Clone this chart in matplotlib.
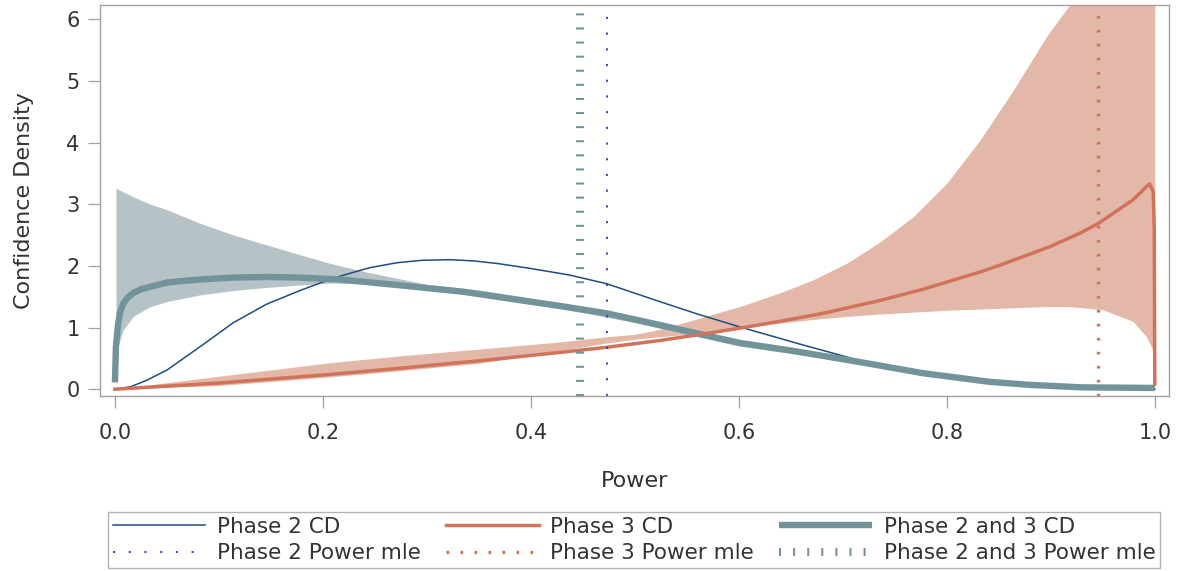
import matplotlib
matplotlib.use("Agg")
import matplotlib.pyplot as plt

plt.rcParams['font.family'] = ['DejaVu Sans']

# Phase 2 confidence density (thin blue)
p2_x = [0, 0.015, 0.03, 0.05, 0.082, 0.114, 0.146, 0.178, 0.2035, 0.22, 0.245, 0.271, 0.295,
        0.322, 0.345, 0.367, 0.399, 0.4375, 0.473, 0.524, 0.56, 0.601, 0.659, 0.713, 0.777,
        0.841, 0.9, 0.95, 1.0]
p2_y = [0, 0.04, 0.14, 0.31, 0.69, 1.08, 1.38, 1.60, 1.76, 1.85, 1.97, 2.05, 2.09,
        2.10, 2.08, 2.04, 1.96, 1.85, 1.71, 1.42, 1.22, 1.01, 0.73, 0.48, 0.27,
        0.13, 0.05, 0.01, 0]

# Phase 3 confidence density (orange)
p3_x = [0, 0.1, 0.207, 0.274, 0.35, 0.43, 0.473, 0.524, 0.56, 0.601, 0.639, 0.681, 0.736,
        0.777, 0.832, 0.851, 0.899, 0.928, 0.945, 0.979, 0.99, 0.995, 0.9985, 0.9995, 1.0]
p3_y = [0, 0.10, 0.24, 0.34, 0.46, 0.60, 0.68, 0.79, 0.88, 0.99, 1.10, 1.23, 1.44,
        1.62, 1.90, 2.01, 2.31, 2.53, 2.68, 3.07, 3.25, 3.33, 3.2, 2.6, 0.08]

# Phase 3 confidence band
p3_band_x = [0, 0.1, 0.207, 0.274, 0.35, 0.43, 0.473, 0.50, 0.524, 0.556, 0.58, 0.601, 0.639,
             0.671, 0.7035, 0.736, 0.768, 0.80, 0.832, 0.864, 0.896, 0.918, 0.95, 0.979,
             0.992, 0.998, 1.0]
p3_band_lo = [0, 0.06, 0.20, 0.30, 0.42, 0.63, 0.75, 0.81, 0.85, 0.90, 0.95, 0.99, 1.07,
              1.13, 1.18, 1.22, 1.25, 1.28, 1.30, 1.32, 1.34, 1.34, 1.29, 1.10,
              0.85, 0.64, 0.5]
p3_band_hi = [0, 0.21, 0.43, 0.54, 0.65, 0.77, 0.85, 0.89, 0.97, 1.12, 1.24, 1.34, 1.56,
              1.77, 2.04, 2.39, 2.80, 3.34, 4.04, 4.85, 5.72, 6.23, 7.2, 8.3,
              8.8, 9.0, 9.0]

# Phase 2 and 3 combined confidence density (thick teal)
p23_x = [0, 0.001, 0.003, 0.005, 0.008, 0.012, 0.0176, 0.025, 0.034, 0.05, 0.082, 0.114,
         0.146, 0.178, 0.216, 0.271, 0.335, 0.399, 0.428, 0.473, 0.524, 0.601, 0.649,
         0.713, 0.777, 0.841, 0.88, 0.93, 1.0]
p23_y = [0.11, 0.70, 1.05, 1.25, 1.39, 1.48, 1.56, 1.62, 1.66, 1.73, 1.78, 1.81,
         1.82, 1.81, 1.78, 1.69, 1.58, 1.42, 1.35, 1.23, 1.04, 0.75, 0.63,
         0.45, 0.26, 0.12, 0.07, 0.03, 0.02]

# Combined confidence band
p23_band_x = [0.001, 0.008, 0.0176, 0.034, 0.05, 0.082, 0.114, 0.146, 0.178, 0.207, 0.239,
              0.271, 0.30, 0.35, 0.40, 0.45, 0.50, 0.55, 0.60, 0.65, 0.70, 0.80, 0.90, 1.0]
p23_band_lo = [0.58, 0.96, 1.18, 1.34, 1.42, 1.53, 1.60, 1.65, 1.69, 1.72, 1.71,
               1.66, 1.62, 1.53, 1.39, 1.24, 1.08, 0.89, 0.70, 0.58, 0.46, 0.19, 0.04, 0.0]
p23_band_hi = [3.26, 3.20, 3.12, 3.00, 2.91, 2.69, 2.50, 2.34, 2.18, 2.04, 1.91,
               1.80, 1.70, 1.61, 1.48, 1.34, 1.19, 1.00, 0.78, 0.65, 0.51, 0.23, 0.07, 0.03]

# power maximum likelihood estimates
mle_p2 = 0.473
mle_p3 = 0.945
mle_p23 = 0.447

blue = '#1d4e7e'
orange = '#d0735a'
teal = '#73939a'
frame = '#a89e9e'
txt = '#333333'

fig = plt.figure(figsize=(11.8, 5.71), dpi=100)
ax = fig.add_axes([0.0847, 0.3065, 0.906, 0.6848])

ax.fill_between(p3_band_x, p3_band_lo, p3_band_hi, color='#e3b8a8', lw=0)
ax.fill_between(p23_band_x, p23_band_lo, p23_band_hi, color='#b6c3c6', lw=0)

l_p2, = ax.plot(p2_x, p2_y, color=blue, lw=1.1, label='Phase 2 CD')
l_p23, = ax.plot(p23_x, p23_y, color=teal, lw=4.6, solid_capstyle='butt',
                 label='Phase 2 and 3 CD')
l_p3, = ax.plot(p3_x, p3_y, color=orange, lw=2.5, label='Phase 3 CD')

v_p2 = ax.axvline(mle_p2, color='#3a30c0', lw=1.3, linestyle=(0, (1.2, 7.5)),
                  label='Phase 2 Power mle')
v_p3 = ax.axvline(mle_p3, color=orange, lw=2.4, linestyle=(0, (0.8, 3.4)),
                  label='Phase 3 Power mle')
v_p23 = ax.axvline(mle_p23, color=teal, lw=5.8, linestyle=(0, (0.25, 1.5)),
                   label='Phase 2 and 3 Power mle')

ax.set_xlim(-0.0144, 1.0137)
ax.set_ylim(-0.11, 6.23)
ax.set_xticks([0, 0.2, 0.4, 0.6, 0.8, 1.0])
ax.set_xticklabels(['0.0', '0.2', '0.4', '0.6', '0.8', '1.0'])
ax.set_yticks([0, 1, 2, 3, 4, 5, 6])

for s in ax.spines.values():
    s.set_color(frame)
    s.set_linewidth(1.0)
ax.tick_params(axis='both', length=8.6, width=0.9, color=frame, labelcolor=txt,
               labelsize=15)
ax.tick_params(axis='x', pad=11)
ax.tick_params(axis='y', pad=6)

ax.set_xlabel('Power', fontsize=16, color=txt)
ax.set_ylabel('Confidence Density', fontsize=16, color=txt)
ax.xaxis.set_label_coords(0.5, -0.192)
ax.yaxis.set_label_coords(-0.062, 0.5)

handles = [l_p2, v_p2, l_p3, v_p3, l_p23, v_p23]
labels = [h.get_label() for h in handles]
leg = fig.legend(handles, labels, ncol=3, loc='lower left',
                 bbox_to_anchor=(108 / 1180, 3 / 571, 1052 / 1180, 59 / 571),
                 mode='expand', fontsize=15.5, frameon=True, fancybox=False,
                 handlelength=4.3, handletextpad=0.55, columnspacing=0.8,
                 labelspacing=0.3, borderpad=0.22, borderaxespad=0)
leg.get_frame().set_edgecolor(frame)
leg.get_frame().set_linewidth(1.0)
for t in leg.get_texts():
    t.set_color(txt)

fig.savefig('out.png', dpi=100)
